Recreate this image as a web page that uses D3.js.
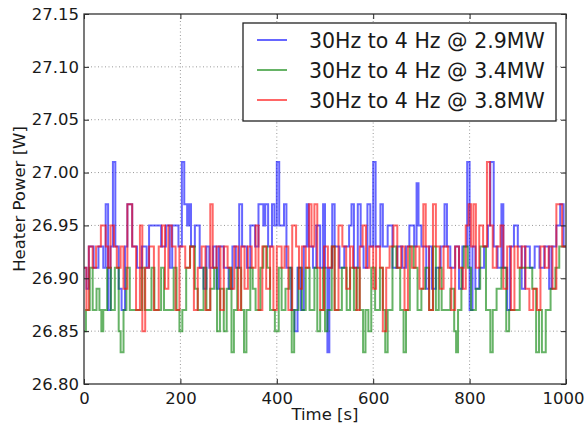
<!DOCTYPE html>
<html>
<head>
<meta charset="utf-8">
<script src="https://cdn.jsdelivr.net/npm/d3@7/dist/d3.min.js"></script>
<style>
  html, body { margin: 0; padding: 0; background: #fff; }
  svg { display: block; font-family: "DejaVu Sans", sans-serif; }
</style>
</head>
<body>
<svg id="chart" width="585" height="429"></svg>
<script>
// ---------------- DATA ----------------
const seriesNames = ["30Hz to 4 Hz @ 2.9MW", "30Hz to 4 Hz @ 3.4MW", "30Hz to 4 Hz @ 3.8MW"];
const seriesColors = ["#0000ff", "#008000", "#ff0000"];
const xTicks = [0, 200, 400, 600, 800, 1000];
const yTicks = [26.80, 26.85, 26.90, 26.95, 27.00, 27.05, 27.10, 27.15];
const xLabel = "Time [s]";
const yLabel = "Heater Power [W]";

// step change points (time [s]) and values [W]
const blueT = [0,5,10,20,30,40,45,50,55,60,65,72,78,85,90,100,110,120,130,135,160,170,178,183,196,203,208,214,218,222,230,240,248,254,260,268,275,280,290,300,308,315,322,328,338,345,355,362,372,376,382,390,395,400,405,415,420,430,437,443,450,456,462,466,475,482,490,496,500,505,509,515,520,530,540,550,555,560,568,574,580,588,594,600,605,615,620,630,640,650,660,668,675,685,690,694,700,710,716,722,730,740,748,753,760,770,778,785,795,800,806,812,820,830,838,843,850,858,866,870,878,884,892,900,908,915,925,935,945,955,965,970,980,988,995];
const blueV = [26.91,26.89,26.93,26.91,26.93,26.91,26.97,26.87,26.93,27.01,26.93,26.89,26.87,26.93,26.97,26.93,26.91,26.93,26.91,26.95,26.93,26.95,26.91,26.95,26.93,27.01,26.97,26.95,26.97,26.93,26.95,26.91,26.89,26.93,26.91,26.93,26.89,26.93,26.91,26.89,26.93,26.91,26.97,26.93,26.91,26.95,26.93,26.97,26.95,26.97,26.93,26.97,26.95,27.01,26.95,26.97,26.91,26.87,26.85,26.91,26.87,26.93,26.97,26.93,26.91,26.95,26.91,26.97,26.91,26.83,26.91,26.97,26.93,26.91,26.93,26.95,26.97,26.91,26.97,26.93,26.91,26.97,26.93,27.01,26.93,26.97,26.93,26.95,26.91,26.93,26.91,26.93,26.95,26.93,26.99,26.95,26.93,26.89,26.93,26.89,26.91,26.93,26.97,26.93,26.91,26.93,26.89,26.93,27.01,26.87,26.93,26.89,26.91,26.93,26.95,27.01,26.93,26.91,26.97,26.91,26.87,26.93,26.95,26.93,26.89,26.93,26.91,26.93,26.91,26.93,26.89,26.93,26.95,26.97,26.93];

const greenT = [0,4,12,18,26,32,36,40,48,56,64,72,76,82,88,95,120,126,140,146,160,166,186,192,198,204,212,220,230,236,248,254,262,270,276,282,290,296,302,306,311,318,326,332,337,345,350,356,366,372,380,386,396,404,410,418,426,431,436,445,452,460,468,478,484,490,496,500,505,514,520,535,545,552,560,566,572,579,584,590,596,604,614,620,625,630,640,648,656,663,668,676,684,692,700,708,716,724,730,736,742,760,768,772,776,783,788,796,803,813,822,834,843,848,856,866,876,882,904,930,938,944,950,958,968,978,986];
const greenV = [26.85,26.87,26.91,26.87,26.89,26.87,26.85,26.87,26.91,26.87,26.91,26.85,26.83,26.87,26.91,26.87,26.91,26.87,26.91,26.87,26.91,26.87,26.91,26.87,26.85,26.87,26.91,26.93,26.89,26.87,26.91,26.87,26.89,26.91,26.85,26.89,26.85,26.89,26.91,26.83,26.87,26.91,26.87,26.83,26.87,26.91,26.89,26.87,26.91,26.93,26.91,26.87,26.85,26.91,26.87,26.89,26.91,26.83,26.87,26.91,26.87,26.91,26.87,26.91,26.85,26.87,26.91,26.85,26.87,26.93,26.87,26.91,26.87,26.91,26.87,26.91,26.87,26.83,26.87,26.85,26.91,26.87,26.91,26.87,26.83,26.87,26.93,26.91,26.87,26.83,26.87,26.93,26.91,26.87,26.89,26.91,26.87,26.93,26.87,26.91,26.87,26.89,26.85,26.83,26.87,26.91,26.93,26.91,26.87,26.89,26.93,26.87,26.83,26.87,26.89,26.91,26.85,26.87,26.91,26.89,26.83,26.87,26.83,26.87,26.89,26.91,26.93];

const redT = [0,5,10,18,25,35,45,50,55,62,68,76,82,90,100,108,116,121,127,135,145,155,162,168,175,182,190,198,210,220,228,236,244,252,262,267,275,283,290,298,305,312,320,326,333,340,348,356,362,370,378,386,393,400,410,416,424,432,440,446,452,460,467,472,478,484,490,498,506,514,520,528,536,544,552,558,565,572,578,585,592,600,606,614,620,627,634,642,650,658,665,672,680,688,696,704,709,716,724,730,738,746,755,762,770,778,786,792,798,803,808,813,820,828,836,842,848,856,864,870,878,886,893,900,908,916,924,932,940,947,956,964,972,980,992];
const redV = [26.91,26.87,26.93,26.91,26.93,26.95,26.93,26.91,26.95,26.93,26.91,26.93,26.89,26.97,26.93,26.87,26.95,26.85,26.91,26.93,26.87,26.93,26.95,26.89,26.95,26.93,26.87,26.93,26.91,26.93,26.87,26.91,26.93,26.87,26.97,26.91,26.93,26.87,26.93,26.91,26.89,26.93,26.87,26.93,26.89,26.93,26.91,26.95,26.87,26.93,26.89,26.93,26.87,26.93,26.91,26.93,26.87,26.95,26.93,26.89,26.93,26.91,26.97,26.93,26.97,26.91,26.87,26.93,26.91,26.93,26.87,26.95,26.93,26.89,26.93,26.91,26.87,26.93,26.95,26.91,26.93,26.89,26.93,26.91,26.85,26.91,26.93,26.95,26.91,26.93,26.87,26.93,26.91,26.93,26.89,26.97,26.93,26.87,26.97,26.93,26.89,26.93,26.91,26.87,26.93,26.91,26.89,26.95,26.97,26.93,26.97,26.91,26.95,26.93,27.01,26.95,26.91,26.93,26.95,26.89,26.93,26.87,26.93,26.91,26.93,26.89,26.87,26.89,26.87,26.93,26.91,26.93,26.89,26.97,26.93];

const seriesT = [blueT, greenT, redT];
const seriesV = [blueV, greenV, redV];

// ---------------- LAYOUT ----------------
const svg = d3.select("#chart");
const M = { left: 84, right: 566, top: 14, bottom: 384 };

const x = d3.scaleLinear().domain([0, 1000]).range([M.left, M.right]);
const y = d3.scaleLinear().domain([26.80, 27.15]).range([M.bottom, M.top]);

svg.append("rect").attr("width", 585).attr("height", 429).attr("fill", "#fff");

// grid
const grid = svg.append("g");
grid.selectAll("line.gx").data(xTicks.slice(1, -1)).join("line")
  .attr("x1", d => x(d)).attr("x2", d => x(d))
  .attr("y1", M.top).attr("y2", M.bottom)
  .attr("stroke", "#999").attr("stroke-width", 1).attr("stroke-dasharray", "1,2.5");
grid.selectAll("line.gy").data(yTicks.slice(1, -1)).join("line")
  .attr("x1", M.left).attr("x2", M.right)
  .attr("y1", d => y(d)).attr("y2", d => y(d))
  .attr("stroke", "#999").attr("stroke-width", 1).attr("stroke-dasharray", "1,2.5");

// clip
svg.append("clipPath").attr("id", "clip").append("rect")
  .attr("x", M.left).attr("y", M.top)
  .attr("width", M.right - M.left).attr("height", M.bottom - M.top);

const line = d3.line().x(d => x(d.t)).y(d => y(d.v)).curve(d3.curveStepAfter);
const plot = svg.append("g").attr("clip-path", "url(#clip)");
seriesT.forEach((T, i) => {
  const V = seriesV[i];
  const pts = T.map((t, j) => ({ t, v: V[j] }));
  pts.push({ t: 1000, v: V[V.length - 1] });
  plot.append("path").datum(pts)
    .attr("d", line)
    .attr("fill", "none")
    .attr("stroke", seriesColors[i])
    .attr("stroke-opacity", 0.6)
    .attr("stroke-width", 2);
});

// axes (ticks inward, on all four sides)
const tickLen = 5;
const axB = d3.axisBottom(x).tickValues(xTicks).tickSize(-tickLen).tickPadding(8).tickFormat(d3.format("d"));
const axT = d3.axisTop(x).tickValues(xTicks).tickSize(-tickLen).tickFormat("");
const axL = d3.axisLeft(y).tickValues(yTicks).tickSize(-tickLen).tickPadding(5).tickFormat(d3.format(".2f"));
const axR = d3.axisRight(y).tickValues(yTicks).tickSize(-tickLen).tickFormat("");

function styleAxis(g) {
  g.select(".domain").remove();
  g.selectAll(".tick line").attr("stroke", "#222").attr("stroke-width", 1);
  g.selectAll(".tick text").attr("fill", "#1a1a1a").style("font-size", "16.5px")
    .style("font-family", "'DejaVu Sans', sans-serif");
}
const gB = svg.append("g").attr("transform", `translate(0,${M.bottom})`).call(axB).call(styleAxis);
// keep the last tick label inside the picture
gB.selectAll(".tick text").filter(d => d === 1000).attr("dx", -3);
svg.append("g").attr("transform", `translate(0,${M.top})`).call(axT).call(styleAxis);
svg.append("g").attr("transform", `translate(${M.left},0)`).call(axL).call(styleAxis);
svg.append("g").attr("transform", `translate(${M.right},0)`).call(axR).call(styleAxis);

// frame
svg.append("rect")
  .attr("x", M.left).attr("y", M.top)
  .attr("width", M.right - M.left).attr("height", M.bottom - M.top)
  .attr("fill", "none").attr("stroke", "#333").attr("stroke-width", 1.3);

// axis labels
svg.append("text")
  .attr("x", (M.left + M.right) / 2).attr("y", 420)
  .attr("text-anchor", "middle").attr("fill", "#1a1a1a")
  .style("font-size", "16.5px").text(xLabel);
svg.append("text")
  .attr("transform", `translate(25,${(M.top + M.bottom) / 2}) rotate(-90)`)
  .attr("text-anchor", "middle").attr("fill", "#1a1a1a")
  .style("font-size", "16.5px").text(yLabel);

// legend
const lg = svg.append("g");
lg.append("rect").attr("x", 243).attr("y", 23).attr("width", 313).attr("height", 98)
  .attr("fill", "#fff").attr("stroke", "#222").attr("stroke-width", 1.3);
seriesNames.forEach((name, i) => {
  const cy = 40 + i * 30;
  lg.append("line").attr("x1", 257).attr("x2", 287).attr("y1", cy).attr("y2", cy)
    .attr("stroke", seriesColors[i]).attr("stroke-opacity", 0.6).attr("stroke-width", 2);
  lg.append("text").attr("x", 309).attr("y", cy + 7.5)
    .attr("fill", "#1a1a1a").style("font-size", "20.5px").text(name);
});
</script>
</body>
</html>
